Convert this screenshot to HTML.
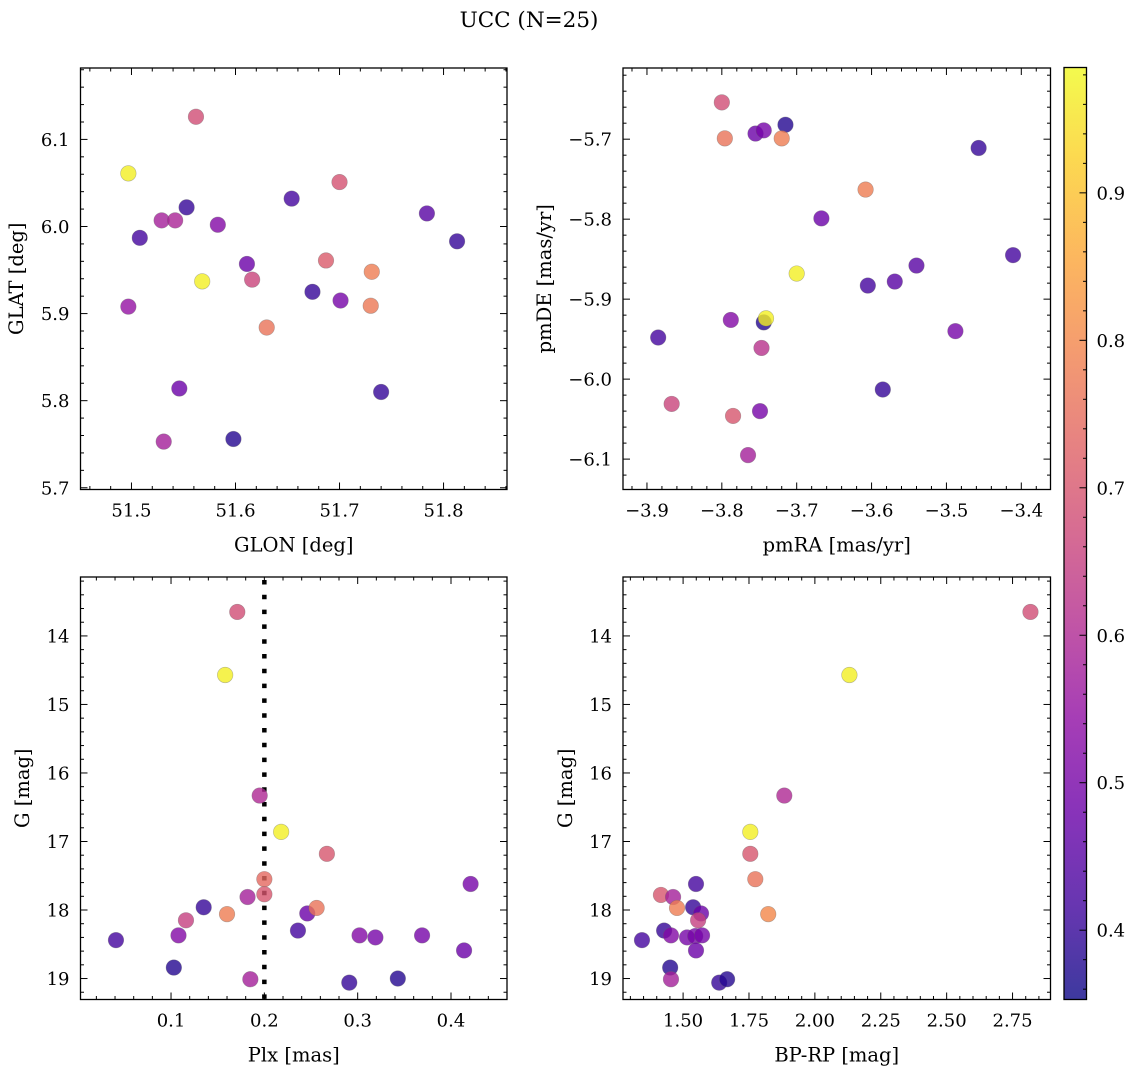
<!DOCTYPE html>
<html><head><meta charset="utf-8"><title>UCC (N=25)</title>
<style>
html,body{margin:0;padding:0;background:#fff;}
svg{display:block;font-family:"DejaVu Serif","Liberation Serif",serif;}
</style></head>
<body>
<svg id="fig" xmlns="http://www.w3.org/2000/svg" width="1136" height="1067" viewBox="0 0 1136 1067">
<rect width="1136" height="1067" fill="#fff"/>
<text x="529" y="27" text-anchor="middle" font-size="21.5">UCC (N=25)</text>
</svg>
<script>
// ---- data: top-left GLON vs GLAT ----
const glonTL = [51.562,51.497,51.700,51.529,51.542,51.553,51.508,51.583,51.654,51.784,51.813,51.611,51.616,51.568,51.687,51.731,51.674,51.701,51.730,51.497,51.630,51.546,51.740,51.531,51.598];
const glatTL = [6.126,6.061,6.051,6.007,6.007,6.022,5.987,6.002,6.032,6.015,5.983,5.957,5.939,5.937,5.961,5.948,5.925,5.915,5.909,5.908,5.884,5.814,5.810,5.753,5.756];
const colTL  = [0.68,0.97,0.69,0.58,0.59,0.40,0.42,0.52,0.42,0.45,0.40,0.48,0.66,0.97,0.71,0.78,0.40,0.50,0.77,0.55,0.76,0.48,0.40,0.58,0.38];
// ---- data: top-right pmRA vs pmDE ----
const pmraTR = [-3.800,-3.796,-3.755,-3.744,-3.715,-3.720,-3.457,-3.608,-3.667,-3.700,-3.411,-3.540,-3.569,-3.605,-3.744,-3.741,-3.788,-3.885,-3.488,-3.747,-3.585,-3.867,-3.785,-3.749,-3.765];
const pmdeTR = [-5.654,-5.699,-5.693,-5.689,-5.682,-5.699,-5.711,-5.763,-5.799,-5.868,-5.845,-5.858,-5.878,-5.883,-5.929,-5.924,-5.926,-5.948,-5.940,-5.961,-6.013,-6.031,-6.046,-6.040,-6.095];
const colTR  = [0.68,0.76,0.48,0.50,0.38,0.78,0.40,0.78,0.48,0.97,0.42,0.45,0.45,0.42,0.38,0.97,0.52,0.42,0.50,0.62,0.40,0.66,0.70,0.50,0.58];
// ---- data: bottom-left Plx vs G ----
const plxBL = [0.041,0.103,0.108,0.116,0.135,0.160,0.182,0.185,0.200,0.200,0.236,0.246,0.256,0.291,0.302,0.319,0.343,0.369,0.414,0.421,0.171,0.158,0.195,0.218,0.267];
const gBL   = [18.44,18.84,18.37,18.15,17.96,18.06,17.81,19.01,17.55,17.77,18.30,18.05,17.97,19.06,18.37,18.40,19.00,18.37,18.59,17.62,13.65,14.57,16.33,16.86,17.18];
const colBL = [0.42,0.38,0.52,0.65,0.40,0.78,0.58,0.58,0.74,0.70,0.42,0.48,0.76,0.40,0.52,0.50,0.38,0.50,0.48,0.50,0.68,0.97,0.60,0.97,0.70];
// ---- data: bottom-right BP-RP vs G ----
const bprpBR = [1.344,1.416,1.462,1.477,1.549,1.538,1.568,1.557,1.428,1.454,1.515,1.546,1.572,1.549,1.451,1.454,1.637,1.667,1.774,1.823,1.755,1.755,1.884,2.131,2.818];
const gBR    = [18.44,17.78,17.81,17.97,17.62,17.96,18.05,18.15,18.30,18.37,18.40,18.38,18.37,18.59,18.84,19.01,19.06,19.01,17.55,18.06,17.18,16.86,16.33,14.57,13.65];
const colBR  = [0.42,0.70,0.58,0.78,0.42,0.40,0.48,0.65,0.40,0.52,0.50,0.50,0.50,0.48,0.38,0.58,0.40,0.38,0.76,0.80,0.70,0.97,0.60,0.97,0.68];
// ---- tick labels ----
const ticksGlon = [51.5,51.6,51.7,51.8];
const ticksGlat = [5.7,5.8,5.9,6.0,6.1];
const ticksPmra = [-3.9,-3.8,-3.7,-3.6,-3.5,-3.4];
const ticksPmde = [-6.1,-6.0,-5.9,-5.8,-5.7];
const ticksPlx  = [0.1,0.2,0.3,0.4];
const ticksG    = [14,15,16,17,18,19];
const ticksBprp = [1.50,1.75,2.00,2.25,2.50,2.75];
const ticksCbar = [0.4,0.5,0.6,0.7,0.8,0.9];
const plxLimit = [0.2];

const svg = document.getElementById('fig');
const NS = 'http://www.w3.org/2000/svg';
const VMIN = 0.353, VMAX = 0.985;
const plasma = ['#0d0887','#41049d','#6a00a8','#8f0da4','#b12a90','#cc4778','#e16462','#f2844b','#fca636','#fcce25','#f0f921'];
function hex(h){return [parseInt(h.slice(1,3),16),parseInt(h.slice(3,5),16),parseInt(h.slice(5,7),16)];}
function cmap(v){
  let t=(v-VMIN)/(VMAX-VMIN); t=Math.max(0,Math.min(1,t));
  const p=t*10, i=Math.min(9,Math.floor(p)), f=p-i;
  const a=hex(plasma[i]), b=hex(plasma[i+1]);
  return 'rgb('+a.map((c,k)=>Math.round(c+(b[k]-c)*f)).join(',')+')';
}
function mk(tag, attrs){const e=document.createElementNS(NS,tag);for(const k in attrs)e.setAttribute(k,attrs[k]);return e;}
function fmt(v,d){return (v<0?'\u2212':'')+Math.abs(v).toFixed(d);}

function panel(o){
  const g=mk('g',{});
  
  
  svg.appendChild(g);
  const sx=v=>o.x0+(v-o.xd[0])/(o.xd[1]-o.xd[0])*(o.x1-o.x0);
  const sy=v=>o.y1-(v-o.yd[0])/(o.yd[1]-o.yd[0])*(o.y1-o.y0);
  const tg=mk('g',{stroke:'#000','stroke-width':1});
  
  
  g.appendChild(tg);
  const xs=Math.min(...o.xd), xe=Math.max(...o.xd), ys=Math.min(...o.yd), ye=Math.max(...o.yd);
  for(let k=Math.ceil(xs/o.xminor-1e-6);k*o.xminor<=xe+1e-9;k++){
    const X=sx(k*o.xminor);
    const major=o.xt.some(t=>Math.abs(t-k*o.xminor)<1e-6);
    const L=major?7:3.5;
    tg.appendChild(mk('line',{x1:X,x2:X,y1:o.y1,y2:o.y1-L}));
    tg.appendChild(mk('line',{x1:X,x2:X,y1:o.y0,y2:o.y0+L}));
  }
  for(let k=Math.ceil(ys/o.yminor-1e-6);k*o.yminor<=ye+1e-9;k++){
    const Y=sy(k*o.yminor);
    const major=o.yt.some(t=>Math.abs(t-k*o.yminor)<1e-6);
    const L=major?7:3.5;
    tg.appendChild(mk('line',{x1:o.x0,x2:o.x0+L,y1:Y,y2:Y}));
    tg.appendChild(mk('line',{x1:o.x1,x2:o.x1-L,y1:Y,y2:Y}));
  }
  o.xt.forEach(t=>{
    const tx=mk('text',{x:sx(t),y:o.y1+27,'text-anchor':'middle','font-size':18});
    
    
    tx.textContent=fmt(t,o.xdp); g.appendChild(tx);
  });
  o.yt.forEach(t=>{
    const tx=mk('text',{x:o.x0-11,y:sy(t)+6.5,'text-anchor':'end','font-size':18});
    
    
    tx.textContent=fmt(t,o.ydp); g.appendChild(tx);
  });
  const xl=mk('text',{x:(o.x0+o.x1)/2,y:o.y1+62,'text-anchor':'middle','font-size':19.5});
  
  
  xl.textContent=o.xlabel; g.appendChild(xl);
  const yc=(o.y0+o.y1)/2;
  const yl=mk('text',{x:o.ylx,y:yc,'text-anchor':'middle','font-size':19.5,transform:'rotate(-90 '+o.ylx+' '+yc+')'});
  
  
  yl.textContent=o.ylabel; g.appendChild(yl);
  if(o.vline){
    o.vline.forEach(v=>{
      const ln=mk('line',{x1:sx(v),x2:sx(v),y1:o.y0+3,y2:o.y1,stroke:'#000','stroke-width':4.5,'stroke-dasharray':'4.5 10.3'});
      
      
      g.appendChild(ln);
    });
  }
  const pg=mk('g',{});
  
  
  g.appendChild(pg);
  o.xs.forEach((v,i)=>{
    const c=mk('circle',{cx:sx(v),cy:sy(o.ys[i]),r:7.8,fill:cmap(o.cs[i]),'fill-opacity':0.8,stroke:'#666','stroke-opacity':0.45,'stroke-width':0.6});
    
    
    pg.appendChild(c);
  });
  const fr=mk('rect',{x:o.x0,y:o.y0,width:o.x1-o.x0,height:o.y1-o.y0,fill:'none',stroke:'#000','stroke-width':1.3});
  
  
  g.appendChild(fr);
}

panel({name:'glon-glat-panel',x0:80.5,x1:507,y0:68,y1:489.5,xd:[51.451,51.861],yd:[5.698,6.182],
  xt:ticksGlon,yt:ticksGlat,xminor:0.02,yminor:0.02,xdp:1,ydp:1,xlabel:'GLON [deg]',ylabel:'GLAT [deg]',ylx:23,
  xs:glonTL,ys:glatTL,cs:colTL});
panel({name:'pm-panel',x0:623,x1:1050.5,y0:68,y1:489.5,xd:[-3.932,-3.361],yd:[-6.138,-5.611],
  xt:ticksPmra,yt:ticksPmde,xminor:0.02,yminor:0.02,xdp:1,ydp:1,xlabel:'pmRA [mas/yr]',ylabel:'pmDE [mas/yr]',ylx:551,
  xs:pmraTR,ys:pmdeTR,cs:colTR});
panel({name:'plx-g-panel',x0:80.5,x1:507,y0:577,y1:999.5,xd:[0.003,0.46],yd:[19.306,13.14],
  xt:ticksPlx,yt:ticksG,xminor:0.02,yminor:0.2,xdp:1,ydp:0,xlabel:'Plx [mas]',ylabel:'G [mag]',ylx:29,
  xs:plxBL,ys:gBL,cs:colBL,vline:plxLimit});
panel({name:'cmd-panel',x0:623,x1:1050.5,y0:577,y1:999.5,xd:[1.272,2.894],yd:[19.306,13.14],
  xt:ticksBprp,yt:ticksG,xminor:0.05,yminor:0.2,xdp:2,ydp:0,xlabel:'BP-RP [mag]',ylabel:'G [mag]',ylx:572,
  xs:bprpBR,ys:gBR,cs:colBR});

// colorbar
(function(){
  const x0=1064,x1=1086.5,y0=67.5,y1=999.5;
  const cg=mk('g',{});
  
  
  svg.appendChild(cg);
  const defs=mk('defs',{});
  const lg=mk('linearGradient',{id:'cbg',x1:0,y1:1,x2:0,y2:0});
  plasma.forEach((c,i)=>lg.appendChild(mk('stop',{offset:(i/10),'stop-color':c})));
  defs.appendChild(lg); cg.appendChild(defs);
  const r=mk('rect',{x:x0,y:y0,width:x1-x0,height:y1-y0,fill:'url(#cbg)','fill-opacity':0.8});
  
  
  cg.appendChild(r);
  const sy=v=>y1-(v-VMIN)/(VMAX-VMIN)*(y1-y0);
  for(let k=Math.ceil(VMIN/0.02);k*0.02<=VMAX;k++){
    const v=k*0.02, Y=sy(v);
    const major=ticksCbar.some(t=>Math.abs(t-v)<1e-6);
    cg.appendChild(mk('line',{x1:x1,x2:x1-(major?7:3.5),y1:Y,y2:Y,stroke:'#000','stroke-width':1}));
  }
  ticksCbar.forEach(t=>{
    const tx=mk('text',{x:x1+10,y:sy(t)+6.5,'font-size':18});
    
    
    tx.textContent=t.toFixed(1); cg.appendChild(tx);
  });
  const fr=mk('rect',{x:x0,y:y0,width:x1-x0,height:y1-y0,fill:'none',stroke:'#000','stroke-width':1.3});
  
  
  cg.appendChild(fr);
})();
</script>
</body></html>
